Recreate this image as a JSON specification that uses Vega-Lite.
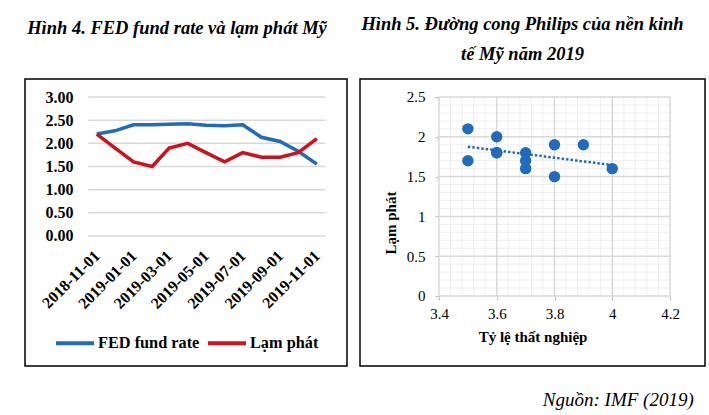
{
  "$schema": "https://vega.github.io/schema/vega-lite/v6.json",
  "padding": {"left": 24, "top": 13, "right": 5, "bottom": 5},
  "spacing": 11,
  "config": {
    "view": {"stroke": "#000000", "strokeWidth": 1.5},
    "font": "Liberation Serif",
    "title": {"font": "Liberation Serif", "fontStyle": "italic", "fontWeight": "bold", "fontSize": 18.5, "color": "#000000"}
  },
  "title": {"text": "Nguồn: IMF (2019)", "orient": "bottom", "anchor": "end", "fontWeight": "normal", "fontStyle": "italic", "fontSize": 19, "offset": 24, "dx": -12},
  "datasets": {
    "monthly": [
      {"date": "2018-11-01", "series": "FED fund rate", "value": 2.20},
      {"date": "2018-12-01", "series": "FED fund rate", "value": 2.27},
      {"date": "2019-01-01", "series": "FED fund rate", "value": 2.40},
      {"date": "2019-02-01", "series": "FED fund rate", "value": 2.40},
      {"date": "2019-03-01", "series": "FED fund rate", "value": 2.41},
      {"date": "2019-04-01", "series": "FED fund rate", "value": 2.42},
      {"date": "2019-05-01", "series": "FED fund rate", "value": 2.39},
      {"date": "2019-06-01", "series": "FED fund rate", "value": 2.38},
      {"date": "2019-07-01", "series": "FED fund rate", "value": 2.40},
      {"date": "2019-08-01", "series": "FED fund rate", "value": 2.13},
      {"date": "2019-09-01", "series": "FED fund rate", "value": 2.04},
      {"date": "2019-10-01", "series": "FED fund rate", "value": 1.83},
      {"date": "2019-11-01", "series": "FED fund rate", "value": 1.55},
      {"date": "2018-11-01", "series": "Lạm phát", "value": 2.2},
      {"date": "2018-12-01", "series": "Lạm phát", "value": 1.9},
      {"date": "2019-01-01", "series": "Lạm phát", "value": 1.6},
      {"date": "2019-02-01", "series": "Lạm phát", "value": 1.5},
      {"date": "2019-03-01", "series": "Lạm phát", "value": 1.9},
      {"date": "2019-04-01", "series": "Lạm phát", "value": 2.0},
      {"date": "2019-05-01", "series": "Lạm phát", "value": 1.8},
      {"date": "2019-06-01", "series": "Lạm phát", "value": 1.6},
      {"date": "2019-07-01", "series": "Lạm phát", "value": 1.8},
      {"date": "2019-08-01", "series": "Lạm phát", "value": 1.7},
      {"date": "2019-09-01", "series": "Lạm phát", "value": 1.7},
      {"date": "2019-10-01", "series": "Lạm phát", "value": 1.8},
      {"date": "2019-11-01", "series": "Lạm phát", "value": 2.1}
    ],
    "phillips": [
      {"unemp": 3.9, "infl": 1.9},
      {"unemp": 4.0, "infl": 1.6},
      {"unemp": 3.8, "infl": 1.5},
      {"unemp": 3.8, "infl": 1.9},
      {"unemp": 3.6, "infl": 2.0},
      {"unemp": 3.6, "infl": 1.8},
      {"unemp": 3.7, "infl": 1.6},
      {"unemp": 3.7, "infl": 1.8},
      {"unemp": 3.7, "infl": 1.7},
      {"unemp": 3.5, "infl": 1.7},
      {"unemp": 3.6, "infl": 1.8},
      {"unemp": 3.5, "infl": 2.1}
    ]
  },
  "hconcat": [
    {
      "width": 322,
      "height": 287,
      "title": {"text": "Hình 4. FED fund rate và lạm phát Mỹ", "offset": 42, "dx": -9},
      "layer": [
        {
          "data": {"values": [{"g": 0}, {"g": 0.5}, {"g": 1}, {"g": 1.5}, {"g": 2}, {"g": 2.5}, {"g": 3}]},
          "mark": {"type": "rule", "color": "#d9d9d9", "strokeWidth": 1.5},
          "encoding": {
            "y": {"field": "g", "type": "quantitative"},
            "x": {"datum": {"year": 2018, "month": 10, "date": 18, "utc": true}, "type": "temporal"},
            "x2": {"datum": {"year": 2019, "month": 11, "date": 15, "utc": true}}
          }
        },
        {
          "data": {"name": "monthly"},
          "mark": {"type": "line", "strokeWidth": 3.5},
          "encoding": {
            "x": {
              "field": "date", "type": "temporal",
              "scale": {"type": "utc", "domain": [{"year": 2018, "month": 7, "date": 5, "utc": true}, {"year": 2019, "month": 12, "date": 21, "utc": true}]},
              "axis": {
                "values": [
                  {"year": 2018, "month": 11, "date": 1, "utc": true},
                  {"year": 2019, "month": 1, "date": 1, "utc": true},
                  {"year": 2019, "month": 3, "date": 1, "utc": true},
                  {"year": 2019, "month": 5, "date": 1, "utc": true},
                  {"year": 2019, "month": 7, "date": 1, "utc": true},
                  {"year": 2019, "month": 9, "date": 1, "utc": true},
                  {"year": 2019, "month": 11, "date": 1, "utc": true}
                ],
                "format": "%Y-%m-%d",
                "labelAngle": -45,
                "labelAlign": "right",
                "labelBaseline": "middle",
                "labelOverlap": false,
                "labelBound": false,
                "labelFlush": false,
                "offset": -130,
                "ticks": false,
                "domain": false,
                "grid": false,
                "labelPadding": 17,
                "labelFont": "Liberation Serif",
                "labelFontWeight": "bold",
                "labelFontSize": 16,
                "labelColor": "#000000",
                "title": null
              }
            },
            "y": {
              "field": "value", "type": "quantitative",
              "scale": {"domain": [-2.8058, 3.3885], "nice": false, "zero": false},
              "axis": {
                "values": [0, 0.5, 1, 1.5, 2, 2.5, 3],
                "format": ".2f",
                "offset": -63,
                "ticks": false,
                "domain": false,
                "grid": false,
                "labelPadding": 15,
                "labelFont": "Liberation Serif",
                "labelFontWeight": "bold",
                "labelFontSize": 16,
                "labelColor": "#000000",
                "title": null
              }
            },
            "color": {
              "field": "series", "type": "nominal",
              "scale": {"domain": ["FED fund rate", "Lạm phát"], "range": ["#1f6bbd", "#d0101b"]},
              "legend": {
                "orient": "none",
                "legendX": 29,
                "legendY": 243,
                "direction": "horizontal",
                "title": null,
                "symbolType": "stroke",
                "symbolSize": 1444,
                "symbolStrokeWidth": 4,
                "labelFont": "Liberation Serif",
                "labelFontWeight": "bold",
                "labelFontSize": 16.3,
                "labelColor": "#000000",
                "labelOffset": 2,
                "columnPadding": 0,
                "padding": 0
              }
            }
          }
        }
      ]
    },
    {
      "width": 345,
      "height": 287,
      "title": {"text": ["Hình 5. Đường cong Philips của nền kinh", "tế Mỹ năm 2019"], "offset": 16, "dx": -10, "lineHeight": 30},
      "layer": [
        {
          "data": {"values": [{"v": 3.44}, {"v": 3.48}, {"v": 3.52}, {"v": 3.56}, {"v": 3.64}, {"v": 3.68}, {"v": 3.72}, {"v": 3.76}, {"v": 3.84}, {"v": 3.88}, {"v": 3.92}, {"v": 3.96}, {"v": 4.04}, {"v": 4.08}, {"v": 4.12}, {"v": 4.16}]},
          "mark": {"type": "rule", "color": "#efefef", "strokeWidth": 1},
          "encoding": {
            "x": {"field": "v", "type": "quantitative"},
            "y": {"datum": 0, "type": "quantitative"},
            "y2": {"datum": 2.5}
          }
        },
        {
          "data": {"values": [{"v": 0.1}, {"v": 0.2}, {"v": 0.3}, {"v": 0.4}, {"v": 0.6}, {"v": 0.7}, {"v": 0.8}, {"v": 0.9}, {"v": 1.1}, {"v": 1.2}, {"v": 1.3}, {"v": 1.4}, {"v": 1.6}, {"v": 1.7}, {"v": 1.8}, {"v": 1.9}, {"v": 2.1}, {"v": 2.2}, {"v": 2.3}, {"v": 2.4}]},
          "mark": {"type": "rule", "color": "#efefef", "strokeWidth": 1},
          "encoding": {
            "y": {"field": "v", "type": "quantitative"},
            "x": {"datum": 3.4, "type": "quantitative"},
            "x2": {"datum": 4.2}
          }
        },
        {
          "data": {"values": [{"v": 3.4}, {"v": 3.6}, {"v": 3.8}, {"v": 4.0}, {"v": 4.2}]},
          "mark": {"type": "rule", "color": "#d9d9d9", "strokeWidth": 1.5},
          "encoding": {
            "x": {"field": "v", "type": "quantitative"},
            "y": {"datum": 0, "type": "quantitative"},
            "y2": {"datum": 2.5}
          }
        },
        {
          "data": {"values": [{"v": 0}, {"v": 0.5}, {"v": 1}, {"v": 1.5}, {"v": 2}, {"v": 2.5}]},
          "mark": {"type": "rule", "color": "#d9d9d9", "strokeWidth": 1.5},
          "encoding": {
            "y": {"field": "v", "type": "quantitative"},
            "x": {"datum": 3.4, "type": "quantitative"},
            "x2": {"datum": 4.2}
          }
        },
        {
          "data": {"name": "phillips"},
          "mark": {"type": "circle", "size": 130, "opacity": 1, "color": "#1f6bbd"},
          "encoding": {
            "x": {
              "field": "unemp", "type": "quantitative",
              "scale": {"domain": [3.1264, 4.3212], "nice": false, "zero": false},
              "axis": {
                "values": [3.4, 3.6, 3.8, 4.0, 4.2],
                "format": "~g",
                "offset": -70,
                "domain": false,
                "grid": false,
                "ticks": true,
                "tickSize": 4,
                "tickColor": "#bfbfbf",
                "labelPadding": 6,
                "labelFont": "Liberation Serif",
                "labelFontWeight": "normal",
                "labelFontSize": 15,
                "labelColor": "#000000",
                "labelFlush": false,
                "title": "Tỷ lệ thất nghiệp",
                "titleFont": "Liberation Serif",
                "titleFontWeight": "bold",
                "titleFontSize": 15,
                "titleColor": "#000000",
                "titlePadding": 8
              }
            },
            "y": {
              "field": "infl", "type": "quantitative",
              "scale": {"domain": [-0.8794, 2.7261], "nice": false, "zero": false},
              "axis": {
                "values": [0, 0.5, 1, 1.5, 2, 2.5],
                "format": "~g",
                "offset": -79,
                "domain": false,
                "grid": false,
                "ticks": true,
                "tickSize": 4,
                "tickColor": "#bfbfbf",
                "labelPadding": 10,
                "labelFont": "Liberation Serif",
                "labelFontWeight": "normal",
                "labelFontSize": 15,
                "labelColor": "#000000",
                "labelFlush": false,
                "title": "Lạm phát",
                "titleFont": "Liberation Serif",
                "titleFontWeight": "bold",
                "titleFontSize": 15,
                "titleColor": "#000000",
                "titlePadding": 8
              }
            }
          }
        },
        {
          "data": {"name": "phillips"},
          "transform": [{"regression": "infl", "on": "unemp", "extent": [3.5, 4.0]}],
          "mark": {"type": "line", "color": "#1f6bbd", "strokeWidth": 2.5, "strokeDash": [2.5, 2]},
          "encoding": {
            "x": {"field": "unemp", "type": "quantitative"},
            "y": {"field": "infl", "type": "quantitative"}
          }
        }
      ]
    }
  ]
}
